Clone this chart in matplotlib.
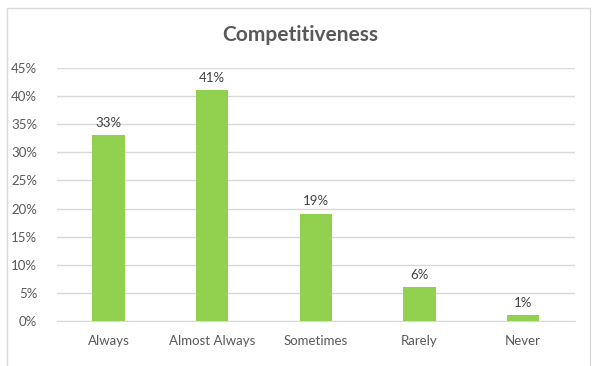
import matplotlib.pyplot as plt
from matplotlib.patches import Rectangle

categories = ["Always", "Almost Always", "Sometimes", "Rarely", "Never"]
values = [33, 41, 19, 6, 1]
yticks = [0, 5, 10, 15, 20, 25, 30, 35, 40, 45]

plt.rcParams['font.family'] = ['Lato', 'DejaVu Sans']
grey = "#595959"

fig = plt.figure(figsize=(6.01, 3.66), dpi=100)
ax = fig.add_axes([56.7 / 601, 1 - 321 / 366, 518.3 / 601, 253 / 366])

x = range(len(categories))
ax.bar(x, values, width=0.31, color="#92D050", zorder=3)
for xi, v in zip(x, values):
    ax.text(xi, v + 1.2, f"{v}%", ha="center", va="bottom", fontsize=9.5, color="#404040")

ax.set_xlim(-0.5, len(categories) - 0.5)
ax.set_ylim(0, 45)
ax.set_yticks(yticks)
ax.set_yticklabels([f"{t}%" for t in yticks])
ax.set_xticks(list(x))
ax.set_xticklabels(categories)
ax.tick_params(axis="both", length=0, labelsize=9.5, colors=grey)
ax.tick_params(axis="x", pad=10)
ax.tick_params(axis="y", pad=14)
ax.grid(axis="y", color="#D9D9D9", linewidth=1, zorder=0)
for s in ["top", "right", "left"]:
    ax.spines[s].set_visible(False)
ax.spines["bottom"].set_color("#D9D9D9")

fig.text(0.5, 1 - 35 / 366, "Competitiveness", ha="center", va="center",
         fontsize=15, fontweight="bold", color=grey)

fig.patches.append(Rectangle((7 / 601, -0.1), 583 / 601, 1.1 - 8 / 366,
                             transform=fig.transFigure, fill=False,
                             edgecolor="#D9D9D9", linewidth=1))

fig.savefig("out.png", dpi=100)
